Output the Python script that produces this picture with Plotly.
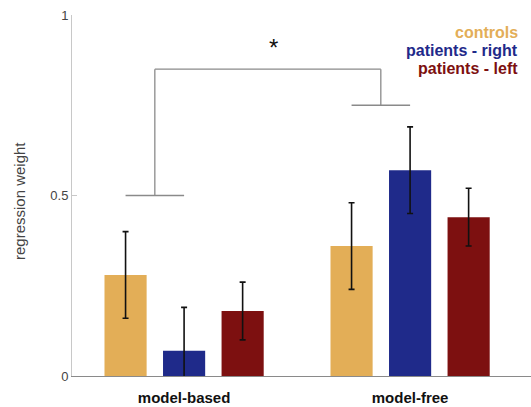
import plotly.graph_objects as go

# Regression weights per model component and group
components = ["model-based", "model-free"]
groups = ["controls", "patients - right", "patients - left"]
colors = ["#E3AE57", "#1F2A8A", "#7D1010"]
weights = {
    "controls": [0.28, 0.36],
    "patients - right": [0.07, 0.57],
    "patients - left": [0.18, 0.44],
}
errors = {
    "controls": [0.12, 0.12],
    "patients - right": [0.12, 0.12],
    "patients - left": [0.08, 0.08],
}
y_ticks = [0, 0.5, 1]
y_tick_labels = ["0", "0.5", "1"]

# Significance bracket (group-mean comparison)
bracket_low = [0.5, 0.75]
bracket_top = 0.85
star_y = 0.91

fig = go.Figure()
for g, c in zip(groups, colors):
    fig.add_trace(go.Bar(
        x=components, y=weights[g], name=g, marker=dict(color=c, line=dict(width=0)),
        error_y=dict(type="data", array=errors[g], color="#111111", thickness=1.6, width=3),
        showlegend=False,
    ))

bargap = 0.223
slot = (1 - bargap) / 3
fig.update_layout(
    barmode="group", bargap=bargap, bargroupgap=0.28,
    width=531, height=407, margin=dict(l=72, r=0, t=15, b=31),
    paper_bgcolor="white", plot_bgcolor="white",
    font=dict(family="Liberation Sans, Arial, sans-serif"),
)
fig.update_xaxes(
    range=[-0.496, 1.535], showgrid=False, zeroline=False, showline=True,
    linecolor="#8a8a8a", linewidth=1, ticks="", ticklabelstandoff=8,
    tickfont=dict(size=15, color="#111111", weight="bold"),
)
fig.update_yaxes(
    range=[0, 1], tickvals=y_ticks, ticktext=y_tick_labels, showgrid=False, zeroline=False,
    showline=True, linecolor="#c8c8c8", linewidth=1, ticks="inside", ticklen=5,
    tickcolor="#c8c8c8", tickfont=dict(size=13, color="#444444"),
)
# y-axis title
fig.add_annotation(xref="paper", yref="paper", x=-0.113, y=0.485, text="regression weight",
                   textangle=-90, showarrow=False, xanchor="center", yanchor="middle",
                   font=dict(size=15, color="#444444"))

# bracket: short bars span controls -> patients-right centres of each component
line = dict(color="#8a8a8a", width=1.3)
mids = []
for i, yl in enumerate(bracket_low):
    x0 = i - slot
    x1 = i
    xm = (x0 + x1) / 2
    mids.append(xm)
    fig.add_shape(type="line", x0=x0, x1=x1, y0=yl, y1=yl, line=line)
    fig.add_shape(type="line", x0=xm, x1=xm, y0=yl, y1=bracket_top, line=line)
fig.add_shape(type="line", x0=mids[0], x1=mids[1], y0=bracket_top, y1=bracket_top, line=line)
fig.add_annotation(x=(mids[0] + mids[1]) / 2 + 0.025, y=star_y, text="*", showarrow=False,
                   font=dict(size=24, color="#111111"), yanchor="middle")

# coloured group labels, right-aligned in the top corner
for k, (g, c) in enumerate(zip(groups, colors)):
    fig.add_annotation(xref="paper", yref="paper", x=0.975, y=0.952 - k * 0.0499,
                       text=g, showarrow=False, xanchor="right", yanchor="middle",
                       font=dict(size=16, color=c, weight="bold"))

fig.write_html("out.html")
